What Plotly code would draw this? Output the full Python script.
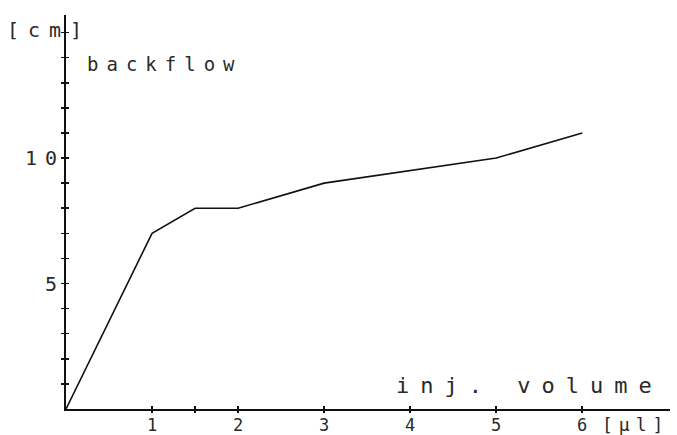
import plotly.graph_objects as go

# data
inj_volume = [0, 1, 1.5, 2, 3, 4, 5, 6]
backflow = [0, 7, 8, 8, 9, 9.5, 10, 11]

x_tickvals = [1, 1.5, 2, 3, 4, 5, 6]
x_ticktext = ["1", "", "2", "3", "4", "5", "6"]
y_tickvals = list(range(1, 16))
y_ticktext = ["", "", "", "", "5", "", "", "", "", "10", "", "", "", "", ""]

FONT = "DejaVu Sans Mono"
INK = "#111111"
TXT = "#2a2a2a"

fig = go.Figure()
fig.add_trace(go.Scatter(x=inj_volume, y=backflow, mode="lines",
                         line=dict(color=INK, width=1.6),
                         hoverinfo="skip", showlegend=False))
# invisible copy so the overlaid tick axes are drawn
fig.add_trace(go.Scatter(x=inj_volume, y=backflow, mode="lines",
                         line=dict(color="rgba(0,0,0,0)", width=0),
                         xaxis="x2", yaxis="y2",
                         hoverinfo="skip", showlegend=False))

L, R, T, B = 66, 7, 15, 26
XR = [0, 7.02]
YR = [0, 15.7]
PW = 677 - L - R
PH = 435 - T - B

fig.update_layout(
    width=677, height=435,
    margin=dict(l=L, r=R, t=T, b=B),
    paper_bgcolor="white", plot_bgcolor="white",
    font=dict(family=FONT, color=TXT),
    xaxis=dict(range=XR, showgrid=False, zeroline=False, automargin=False,
               showline=True, linecolor=INK, linewidth=1.5,
               tickmode="array", tickvals=x_tickvals, ticktext=x_ticktext,
               ticks="inside", ticklen=3, tickwidth=1.5, tickcolor=INK,
               tickfont=dict(family=FONT, size=17, color=TXT),
               fixedrange=True),
    yaxis=dict(range=YR, showgrid=False, zeroline=False, automargin=False,
               showline=True, linecolor=INK, linewidth=2,
               tickmode="array", tickvals=y_tickvals, ticktext=y_ticktext,
               ticks="outside", ticklen=3, tickwidth=1.5, tickcolor=INK,
               tickfont=dict(family=FONT, size=20, color=TXT),
               fixedrange=True),
    xaxis2=dict(range=XR, overlaying="x", anchor="y", side="bottom",
                showgrid=False, zeroline=False, showline=False, automargin=False,
                tickmode="array", tickvals=x_tickvals, showticklabels=False,
                ticks="outside", ticklen=3, tickwidth=1.5, tickcolor=INK,
                fixedrange=True),
    yaxis2=dict(range=YR, overlaying="y", anchor="x", side="left",
                showgrid=False, zeroline=False, showline=False, automargin=False,
                tickmode="array", tickvals=y_tickvals, showticklabels=False,
                ticks="inside", ticklen=3, tickwidth=1.5, tickcolor=INK,
                fixedrange=True),
    annotations=[
        dict(text="[cm]", xref="paper", yref="paper",
             x=(5 - L) / PW, y=(435 - B - 30) / PH,
             xanchor="left", yanchor="middle", showarrow=False,
             font=dict(family=FONT, size=20, color=TXT)),
        dict(text="backflow", xref="paper", yref="paper",
             x=(85 - L) / PW, y=(435 - B - 64) / PH,
             xanchor="left", yanchor="middle", showarrow=False,
             font=dict(family=FONT, size=19, color=TXT)),
        dict(text="inj. volume", xref="paper", yref="paper",
             x=(394 - L) / PW, y=(435 - B - 385) / PH,
             xanchor="left", yanchor="middle", showarrow=False,
             font=dict(family=FONT, size=22, color=TXT)),
        dict(text="[μl]", xref="paper", yref="paper",
             x=(600 - L) / PW, y=(435 - B - 425) / PH,
             xanchor="left", yanchor="middle", showarrow=False,
             font=dict(family=FONT, size=18, color=TXT)),
    ],
)

post = """
document.body.style.margin = '0';
document.body.style.padding = '0';
var gd = document.getElementById('{plot_id}');
var spacing = [9, 8, 11, 6];
function spread(){
  gd.querySelectorAll('.annotation-text').forEach(function(t, i){
    if (t.getAttribute('data-spread')) return;
    var b = t.getBBox();
    t.setAttribute('text-anchor', 'start');
    t.setAttribute('x', b.x);
    t.querySelectorAll('tspan').forEach(function(ts){
      if (ts.hasAttribute('x')) ts.setAttribute('x', b.x);
    });
    t.style.letterSpacing = (spacing[i] !== undefined ? spacing[i] : 8) + 'px';
    t.setAttribute('data-spread', '1');
  });
  gd.querySelectorAll('.ytick text').forEach(function(t){
    if (t.getAttribute('data-spread')) return;
    t.style.letterSpacing = '8px';
    t.setAttribute('dx', '8');
    t.setAttribute('data-spread', '1');
  });
}
spread();
setTimeout(spread, 50);
"""

fig.write_html("out.html", post_script=post, config={"staticPlot": True})
